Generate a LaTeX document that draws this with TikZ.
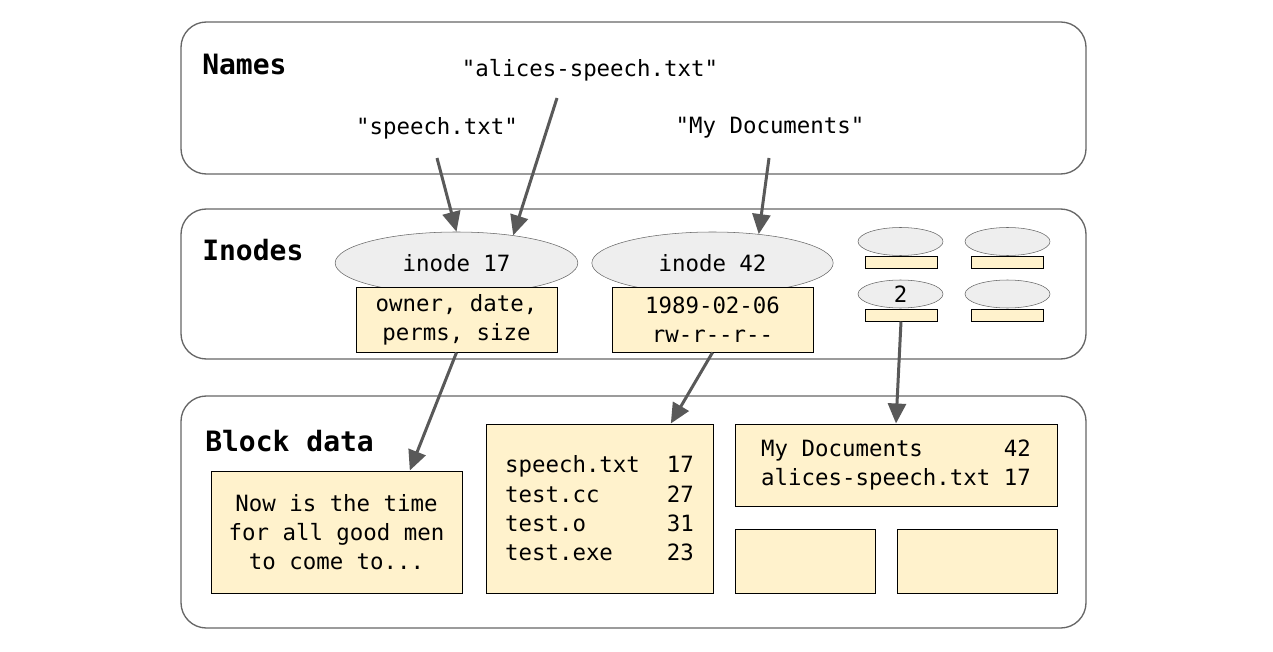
\documentclass[tikz,border=0pt]{standalone}
\usepackage{fontspec}
\setmonofont{DejaVu Sans Mono}
\usetikzlibrary{shapes.geometric,arrows.meta,positioning}

\definecolor{paper}{HTML}{FFF2CC}
\definecolor{inodegray}{HTML}{EEEEEE}
\definecolor{edgegray}{HTML}{595959}
\definecolor{framegray}{HTML}{666666}

\begin{document}
\begin{tikzpicture}
[x=0.75pt,y=-0.75pt,->,>={Triangle[length=15pt,width=13.5pt]},
 font=\ttfamily\fontsize{16.8}{22}\selectfont]

  \tikzstyle{layer}=[-,draw=framegray,line width=1pt,rounded corners=19pt]
  \tikzstyle{title}=[anchor=west,inner sep=0pt,font=\ttfamily\bfseries\fontsize{21}{25}\selectfont]
  \tikzstyle{inode}=[ellipse,draw=framegray,fill=inodegray,inner sep=0pt]
  \tikzstyle{meta}=[rectangle,draw=black,line width=0.75pt,fill=paper,inner sep=0pt,align=center]
  \tikzstyle{block}=[meta]
  \tikzstyle{link}=[draw=edgegray,line width=2.25pt]

  \useasboundingbox (0,0) rectangle (1273,652);

  % the three layers
  \draw[layer] (181,22) rectangle (1086,174);
  \draw[layer] (181,209) rectangle (1086,359);
  \draw[layer] (181,396) rectangle (1086,628);

  \node[title] (names)  at (202,64)  {Names};
  \node[title] (inodes) at (202,250) {Inodes};
  \node[title] (blocks) at (205,441) {Block data};

  % names
  \node (alices) at (590,70)  {"alices-speech.txt"};
  \node (speech) at (437,128) {"speech.txt"};
  \node (mydocs) at (770,128) {"My Documents"};
  \coordinate (alicestail) at (557,98);
  \coordinate (speechtail) at (437,158);
  \coordinate (mydocstail) at (769,158);

  % inodes
  \node[inode,minimum width=182pt,minimum height=46.5pt] (ino17) at (456.5,263) {inode 17};
  \node[inode,minimum width=181pt,minimum height=46.5pt] (ino42) at (712.5,263) {inode 42};
  \node[meta,minimum width=150.75pt,minimum height=48.75pt] (meta17) at (456.5,319.5)
    {owner, date,\\perms, size};
  \node[meta,minimum width=150.75pt,minimum height=48.75pt] (meta42) at (712.5,319.5)
    {1989-02-06\\rw-r{-}{-}r{-}{-}};

  \node[inode,minimum width=63.75pt,minimum height=21pt] (small1) at (900.5,241.5)  {};
  \node[inode,minimum width=63.75pt,minimum height=21pt] (small2) at (1007.5,241.5) {};
  \node[inode,minimum width=63.75pt,minimum height=21pt] (small3) at (900.5,294)    {2};
  \node[inode,minimum width=63.75pt,minimum height=21pt] (small4) at (1007.5,294)   {};
  \node[meta,minimum width=54pt,minimum height=9pt] (tiny1) at (901,262)    {};
  \node[meta,minimum width=54pt,minimum height=9pt] (tiny2) at (1007.5,262) {};
  \node[meta,minimum width=54pt,minimum height=9pt] (tiny3) at (901,315)    {};
  \node[meta,minimum width=54pt,minimum height=9pt] (tiny4) at (1007.5,315) {};

  % block data
  \node[block,minimum width=188.25pt,minimum height=91.5pt] (blkA) at (336.5,532)
    {Now is the time\\for all good men\\to come to...};
  \node[block,align=left,minimum width=170.25pt,minimum height=126.75pt] (blkB) at (599.5,508.5)
    {speech.txt~~17\\test.cc~~~~~27\\test.o~~~~~~31\\test.exe~~~~23};
  \node[block,align=left,minimum width=241.5pt,minimum height=61.5pt] (blkC) at (896,465)
    {My Documents~~~~~~42\\alices-speech.txt~17};
  \node[block,minimum width=105pt,minimum height=48pt] (blkD) at (805,561) {};
  \node[block,minimum width=120pt,minimum height=48pt] (blkE) at (977,561) {};

  % links
  \draw[link] (speechtail) -- (ino17.north);
  \draw[link] (alicestail) -- (ino17.26);
  \draw[link] (mydocstail) -- (ino42.32);
  \draw[link] (meta17.south) -- (blkA.40.5);
  \draw[link] (meta42.south) -- (blkB.50);
  \draw[link] (tiny3.south) -- (blkC.north);
\end{tikzpicture}
\end{document}
